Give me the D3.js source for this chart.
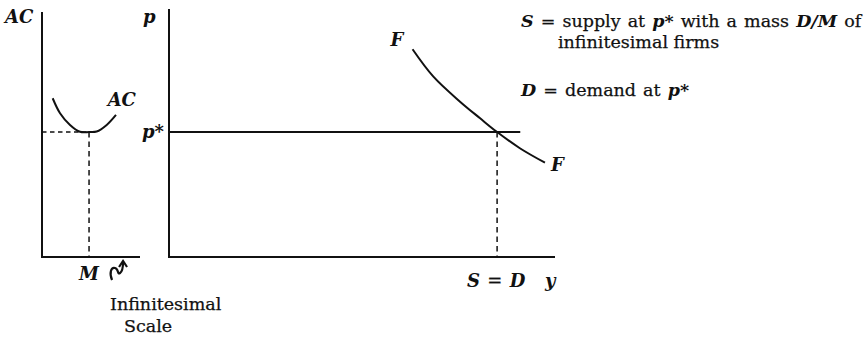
<!DOCTYPE html>
<html>
<head>
<meta charset="utf-8">
<script src="https://cdn.jsdelivr.net/npm/d3@7"></script>
<style>
  html, body { margin: 0; padding: 0; background: #fff; }
  svg text { font-family: "DejaVu Serif", "Liberation Serif", serif; fill: #111; stroke: #111; stroke-width: 0.25px; }
  .it { font-style: italic; font-weight: bold; stroke-width: 0; }
</style>
</head>
<body>
<svg id="chart" width="865" height="338"></svg>
<script>
// Firm-level average cost curve (left panel): output q vs. AC
const acQ    = [10.9, 18.4, 28.6, 38.8, 48, 55.8, 66, 75.5];
const acCost = [64.8, 58.7, 53.9, 51.1, 51, 51.2, 53.9, 58];

// Market panel: the F curve (output y vs. price p)
const fY     = [63.1, 68.5, 75.4, 80.6, 85, 90.9, 97.4];
const fPrice = [84.8, 73.6, 63.4, 56.6, 51, 44.4, 38.5];

// Key levels
const pStar = 51;       // equilibrium price = minimum AC
const mScale = 48;      // efficient scale M
const sEqD = 85;        // S = D quantity
const pLineEnd = 91;    // end of the horizontal p* line

const svg = d3.select("#chart");
const ink = "#111";
const labelSize = 18;
const textSize = 17.5;

// Shared vertical scale; separate horizontal scales for the two panels
const yScale = d3.scaleLinear().domain([0, 100]).range([257, 12]);
const xLeft  = d3.scaleLinear().domain([0, 100]).range([42, 140]);
const xRight = d3.scaleLinear().domain([0, 100]).range([169, 555]);

const line = (xs, data) => d3.line()
  .x(d => xs(d[0])).y(d => yScale(d[1]))
  .curve(d3.curveCatmullRom.alpha(0.5))(data);

// ---------- Left panel: firm ----------
const gl = svg.append("g");
gl.append("line").attr("x1", xLeft(0)).attr("x2", xLeft(0))
  .attr("y1", yScale(0)).attr("y2", yScale(100))
  .attr("stroke", ink).attr("stroke-width", 2);
gl.append("line").attr("x1", xLeft(0) - 1).attr("x2", xLeft(100))
  .attr("y1", yScale(0)).attr("y2", yScale(0))
  .attr("stroke", ink).attr("stroke-width", 2);

gl.append("path")
  .attr("d", line(xLeft, acQ.map((q, i) => [q, acCost[i]])))
  .attr("fill", "none").attr("stroke", ink).attr("stroke-width", 2);

// dashed guides at the AC minimum
gl.append("line").attr("x1", xLeft(0)).attr("x2", xLeft(mScale))
  .attr("y1", yScale(pStar)).attr("y2", yScale(pStar))
  .attr("stroke", ink).attr("stroke-width", 1.5).attr("stroke-dasharray", "4.5,3.5");
gl.append("line").attr("x1", xLeft(mScale)).attr("x2", xLeft(mScale))
  .attr("y1", yScale(pStar)).attr("y2", yScale(0))
  .attr("stroke", ink).attr("stroke-width", 1.5).attr("stroke-dasharray", "5.5,4");

gl.append("text").attr("class", "it").attr("x", 5).attr("y", 23)
  .attr("font-size", labelSize).text("AC");
gl.append("text").attr("class", "it").attr("x", xLeft(67)).attr("y", yScale(61.5))
  .attr("font-size", labelSize).text("AC");
gl.append("text").attr("class", "it").attr("x", xLeft(mScale) - 10).attr("y", 280)
  .attr("font-size", labelSize).text("M");

// squiggly arrow pointing at the infinitesimal scale
const sx = xLeft(mScale) + 23, sy = 280;
gl.append("path")
  .attr("d", `M${sx},${sy} C${sx - 3},${sy - 7} ${sx - 1},${sy - 13} ${sx + 3},${sy - 12}
              C${sx + 7},${sy - 11} ${sx + 5},${sy - 5} ${sx + 8},${sy - 7}
              C${sx + 11},${sy - 9} ${sx + 11},${sy - 14} ${sx + 11},${sy - 18}`)
  .attr("fill", "none").attr("stroke", ink).attr("stroke-width", 2.2);
gl.append("path")
  .attr("d", `M${sx + 7},${sy - 13} L${sx + 11},${sy - 19} L${sx + 15},${sy - 13}`)
  .attr("fill", "none").attr("stroke", ink).attr("stroke-width", 2.2);

gl.append("text").attr("x", 110).attr("y", 310).attr("font-size", textSize).text("Infinitesimal");
gl.append("text").attr("x", 124).attr("y", 332).attr("font-size", textSize).text("Scale");

// ---------- Right panel: market ----------
const gr = svg.append("g");
gr.append("line").attr("x1", xRight(0)).attr("x2", xRight(0))
  .attr("y1", yScale(0)).attr("y2", yScale(101.2))
  .attr("stroke", ink).attr("stroke-width", 2);
gr.append("line").attr("x1", xRight(0) - 1).attr("x2", xRight(100))
  .attr("y1", yScale(0)).attr("y2", yScale(0))
  .attr("stroke", ink).attr("stroke-width", 2);

// horizontal supply at p*
gr.append("line").attr("x1", xRight(0)).attr("x2", xRight(pLineEnd))
  .attr("y1", yScale(pStar)).attr("y2", yScale(pStar))
  .attr("stroke", ink).attr("stroke-width", 2);

// F curve
gr.append("path")
  .attr("d", line(xRight, fY.map((q, i) => [q, fPrice[i]])))
  .attr("fill", "none").attr("stroke", ink).attr("stroke-width", 2);

// dashed drop at S = D
gr.append("line").attr("x1", xRight(sEqD)).attr("x2", xRight(sEqD))
  .attr("y1", yScale(pStar)).attr("y2", yScale(0))
  .attr("stroke", ink).attr("stroke-width", 1.5).attr("stroke-dasharray", "5.5,4");

gr.append("text").attr("class", "it").attr("x", 143).attr("y", 23)
  .attr("font-size", labelSize).text("p");
gr.append("text").attr("class", "it").attr("x", 142).attr("y", yScale(pStar) + 6)
  .attr("font-size", labelSize).text("p*");
gr.append("text").attr("class", "it").attr("x", xRight(fY[0]) - 22).attr("y", 46)
  .attr("font-size", labelSize).text("F");
gr.append("text").attr("class", "it").attr("x", xRight(fY[fY.length - 1]) + 6).attr("y", 171)
  .attr("font-size", labelSize).text("F");

const sd = gr.append("text").attr("x", xRight(sEqD) - 30).attr("y", 287)
  .attr("font-size", labelSize).attr("word-spacing", 1.5);
sd.append("tspan").attr("class", "it").text("S");
sd.append("tspan").text(" = ");
sd.append("tspan").attr("class", "it").text("D");
gr.append("text").attr("class", "it").attr("x", xRight(100) - 10).attr("y", 287)
  .attr("font-size", labelSize).text("y");

// ---------- Legend text ----------
const legend = svg.append("g").attr("font-size", textSize);
const l1 = legend.append("text").attr("x", 521).attr("y", 27).attr("word-spacing", 1.5);
l1.append("tspan").attr("class", "it").text("S");
l1.append("tspan").text(" = supply at ");
l1.append("tspan").attr("class", "it").text("p*");
l1.append("tspan").text(" with a mass ");
l1.append("tspan").attr("class", "it").text("D/M");
l1.append("tspan").text(" of");
legend.append("text").attr("x", 558).attr("y", 48).text("infinitesimal firms");
const l2 = legend.append("text").attr("x", 521).attr("y", 96).attr("word-spacing", 1.5);
l2.append("tspan").attr("class", "it").text("D");
l2.append("tspan").text(" = demand at ");
l2.append("tspan").attr("class", "it").text("p*");
</script>
</body>
</html>
